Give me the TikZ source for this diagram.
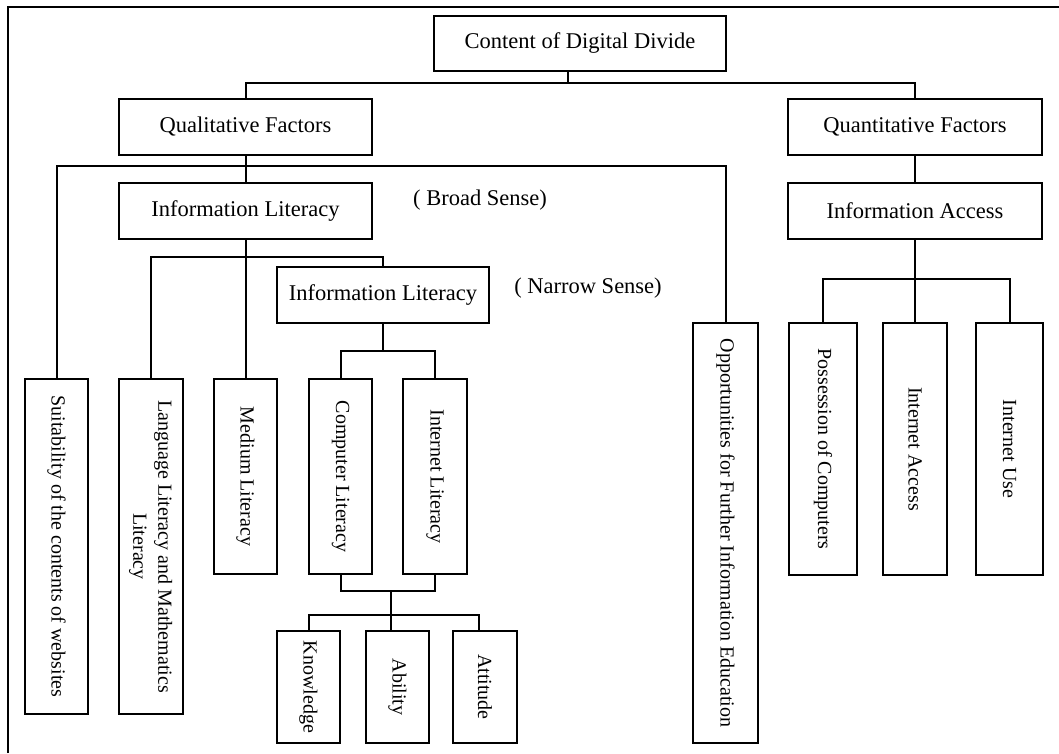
\documentclass[tikz,border=0pt]{standalone}
\usepackage{fontspec}
\setmainfont{Liberation Serif}
\tikzset{
  hbox/.style={draw, line width=2pt, inner sep=0pt, align=center, font=\fontsize{22.5}{27}\selectfont},
  vbox/.style={draw, line width=2pt, inner sep=0pt, align=center, font=\fontsize{20}{26}\selectfont},
  conn/.style={line width=2pt},
  note/.style={inner sep=0pt, font=\fontsize{22.5}{27}\selectfont}
}
\newcommand{\vtext}[1]{\rotatebox{-90}{#1}}
\begin{document}
\begin{tikzpicture}[x=1pt,y=-1pt]
\useasboundingbox (0,0) rectangle (1059,753);
% frame (top and left lines)
\draw[line width=2pt] (8,753) -- (8,6.5) -- (1059,6.5);

% horizontal boxes
\node[hbox, minimum width=292pt, minimum height=55pt] (top) at (580,43.5) {Content of Digital Divide};
\node[hbox, minimum width=253pt, minimum height=56pt] (qual) at (245.5,127) {Qualitative Factors};
\node[hbox, minimum width=254pt, minimum height=56pt] (quant) at (915,127) {Quantitative Factors};
\node[hbox, minimum width=253pt, minimum height=56pt] (ilb) at (245.5,211) {Information Literacy};
\node[hbox, minimum width=254pt, minimum height=56pt] (access) at (915,211) {Information Access};
\node[hbox, minimum width=212pt, minimum height=56pt] (iln) at (383,295) {Information Literacy};

\node[note] (broad) at (480,200) {( Broad Sense)};
\node[note] (narrow) at (588,288) {( Narrow Sense)};

% vertical boxes
\node[vbox, minimum width=63pt, minimum height=335pt] (suit) at (56.5,546.5) {\vtext{Suitability of the contents of websites}};
\node[vbox, minimum width=64pt, minimum height=335pt] (lang) at (151,546.5) {\vtext{\begin{tabular}{@{}c@{}}Language Literacy and Mathematics\\[-1pt]Literacy\end{tabular}}};
\node[vbox, minimum width=63pt, minimum height=195pt] (med) at (245.5,476.5) {\vtext{Medium Literacy}};
\node[vbox, minimum width=63pt, minimum height=195pt] (comp) at (340.5,476.5) {\vtext{Computer Literacy}};
\node[vbox, minimum width=64pt, minimum height=195pt] (inet) at (435,476.5) {\vtext{Internet Literacy}};
\node[vbox, minimum width=63pt, minimum height=112pt] (know) at (308.5,687) {\vtext{Knowledge}};
\node[vbox, minimum width=63pt, minimum height=112pt] (abil) at (397.5,687) {\vtext{Ability}};
\node[vbox, minimum width=64pt, minimum height=112pt] (atti) at (485,687) {\vtext{Attitude}};
\node[vbox, minimum width=65pt, minimum height=420pt] (opp) at (725.5,533) {\vtext{Opportunities for Further Information Education}};
\node[vbox, minimum width=68pt, minimum height=252pt] (poss) at (823,449) {\vtext{Possession of Computers}};
\node[vbox, minimum width=64pt, minimum height=252pt] (iacc) at (915,449) {\vtext{Internet Access}};
\node[vbox, minimum width=67pt, minimum height=252pt] (iuse) at (1009.5,449) {\vtext{Internet Use}};

% bus coordinates
\coordinate (b0) at (568,83);
\coordinate (b1) at (245.5,166);
\coordinate (b2) at (245.5,257);
\coordinate (b3) at (383,351);
\coordinate (b4) at (391,591);
\coordinate (b5) at (391,615);
\coordinate (b6) at (915,279);

% connectors
\draw[conn] ([xshift=-12pt]top.south) -- (b0);
\draw[conn] (qual.north) |- (b0) -| (quant.north);
\draw[conn] (qual.south) -- (ilb.north);
\draw[conn] (suit.north) |- (b1) -| (opp.north);
\draw[conn] (ilb.south) -- (med.north);
\draw[conn] (lang.north) |- (b2) -| (iln.north);
\draw[conn] (iln.south) -- (b3);
\draw[conn] (comp.north) |- (b3) -| (inet.north);
\draw[conn] (comp.south) |- (b4) -| (inet.south);
\draw[conn] (b4) -- (b5);
\draw[conn] (know.north) |- (b5) -| ([xshift=-5.7pt]atti.north);
\draw[conn] (b5) -- (b5 |- abil.north);
\draw[conn] (quant.south) -- (access.north);
\draw[conn] (access.south) -- (iacc.north);
\draw[conn] (poss.north) |- (b6) -| (iuse.north);
\end{tikzpicture}
\end{document}
